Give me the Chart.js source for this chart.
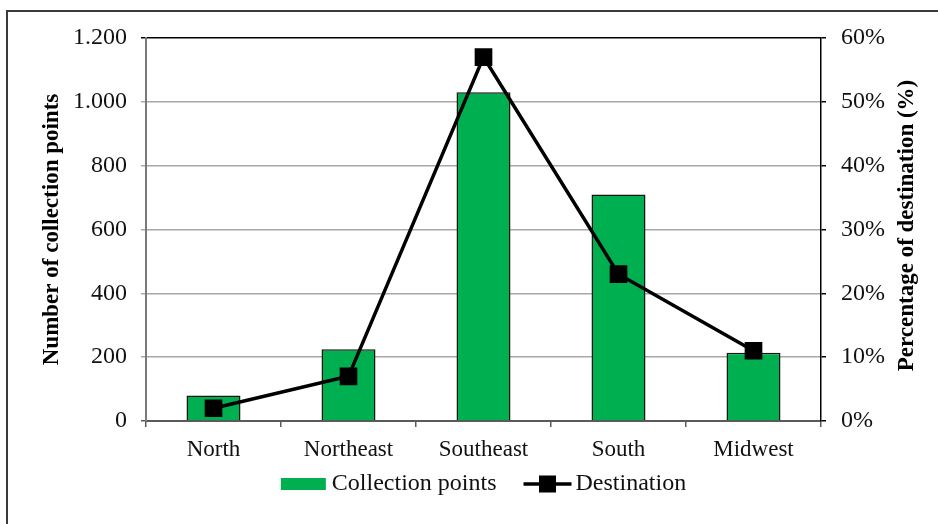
<!DOCTYPE html>
<html>
<head>
<meta charset="utf-8">
<script src="https://cdn.jsdelivr.net/npm/chart.js@4/dist/chart.umd.min.js"></script>
<style>
  html, body { margin: 0; padding: 0; background: #ffffff; }
  #wrap { width: 938px; height: 524px; }
</style>
</head>
<body>
<div id="wrap"><canvas id="chart" width="938" height="524"></canvas></div>
<script>
// Regions and their values
const regions = ['North', 'Northeast', 'Southeast', 'South', 'Midwest'];
const collectionPoints = [80, 225, 1030, 710, 214];
const destinationShare = [2, 7, 57, 23, 11];

// Axis tick labels
const countTickLabels = ['0', '200', '400', '600', '800', '1.000', '1.200'];
const shareTickLabels = ['0%', '10%', '20%', '30%', '40%', '50%', '60%'];

// Series and axis names
const seriesNames = ['Collection points', 'Destination'];
const axisTitles = ['Number of collection points', 'Percentage of destination (%)'];

const SERIF = "'Liberation Serif', 'Times New Roman', serif";
const BAR_GREEN = '#00b050';

// Outer frame, right-hand axis title and the legend row
const decorations = {
  id: 'decorations',
  beforeDraw(chart) {
    const ctx = chart.ctx;
    ctx.save();
    ctx.fillStyle = '#ffffff';
    ctx.fillRect(0, 0, chart.width, chart.height);
    ctx.strokeStyle = '#3a3a3a';
    ctx.lineWidth = 2;
    ctx.beginPath();
    ctx.moveTo(7, chart.height + 2);
    ctx.lineTo(7, 11);
    ctx.lineTo(chart.width + 2, 11);
    ctx.stroke();
    ctx.restore();
  },
  afterDraw(chart) {
    const ctx = chart.ctx;
    const area = chart.chartArea;

    // title of the percentage axis, reading upward
    ctx.save();
    ctx.translate(907, (area.top + area.bottom) / 2 - 4);
    ctx.rotate(-Math.PI / 2);
    ctx.font = 'bold 23px ' + SERIF;
    ctx.fillStyle = '#000000';
    ctx.textAlign = 'center';
    ctx.textBaseline = 'middle';
    ctx.fillText(axisTitles[1], 0, 0);
    ctx.restore();

    // legend
    const bars = chart.data.datasets[0];
    const line = chart.data.datasets[1];
    ctx.save();
    ctx.font = '24px ' + SERIF;
    ctx.textBaseline = 'middle';
    ctx.textAlign = 'left';
    const w1 = ctx.measureText(bars.label).width;
    const w2 = ctx.measureText(line.label).width;
    const swatchW = 45, iconW = 48;
    const total = swatchW + 6 + w1 + 27 + iconW + 4 + w2;
    let x = (area.left + area.right) / 2 - total / 2;
    const y = 484;

    ctx.fillStyle = bars.backgroundColor;
    ctx.fillRect(x, y - 6, swatchW, 12);
    x += swatchW + 6;
    ctx.fillStyle = '#111111';
    ctx.fillText(bars.label, x, y);
    x += w1 + 27;

    ctx.strokeStyle = line.borderColor;
    ctx.lineWidth = 3.5;
    ctx.beginPath();
    ctx.moveTo(x, y);
    ctx.lineTo(x + iconW, y);
    ctx.stroke();
    ctx.fillStyle = line.pointBackgroundColor;
    ctx.fillRect(x + iconW / 2 - 8.5, y - 8.5, 17, 17);
    x += iconW + 4;
    ctx.fillStyle = '#111111';
    ctx.fillText(line.label, x, y);
    ctx.restore();
  }
};

new Chart(document.getElementById('chart'), {
  type: 'bar',
  data: {
    labels: regions,
    datasets: [
      {
        type: 'bar',
        label: seriesNames[0],
        data: collectionPoints,
        yAxisID: 'yCount',
        backgroundColor: BAR_GREEN,
        borderColor: '#141414',
        borderWidth: 1.5,
        borderSkipped: 'bottom',
        barPercentage: 0.8,
        categoryPercentage: 0.5,
        order: 2
      },
      {
        type: 'line',
        label: seriesNames[1],
        data: destinationShare,
        yAxisID: 'yShare',
        borderColor: '#000000',
        borderWidth: 3.5,
        pointStyle: 'rect',
        pointRadius: 12.5,
        pointBackgroundColor: '#000000',
        pointBorderWidth: 0,
        tension: 0,
        fill: false,
        order: 1
      }
    ]
  },
  options: {
    responsive: false,
    devicePixelRatio: 1,
    animation: false,
    events: [],
    layout: { padding: { top: 38, bottom: 55, left: 0, right: 0 } },
    plugins: {
      legend: { display: false },
      tooltip: { enabled: false }
    },
    scales: {
      x: {
        offset: true,
        grid: {
          offset: true,
          drawOnChartArea: false,
          drawTicks: true,
          tickLength: 6,
          color: '#5a5a5a',
          lineWidth: 1.5
        },
        border: { color: '#5a5a5a', width: 2 },
        ticks: {
          font: { family: SERIF, size: 23 },
          color: '#111111',
          padding: 9,
          maxRotation: 0
        },
        afterFit(scale) { scale.height = 48; }
      },
      yCount: {
        position: 'left',
        min: 0,
        max: 1200,
        ticks: {
          stepSize: 200,
          font: { family: SERIF, size: 24 },
          color: '#111111',
          padding: 14,
          callback: (value, index) => countTickLabels[index]
        },
        grid: {
          color: (c) => c.tick && c.tick.value === 1200 ? '#000000'
                       : (c.tick && c.tick.value === 0 ? '#5a5a5a' : '#a8a8a8'),
          lineWidth: 1.5,
          tickLength: 5
        },
        border: { color: '#7a7a7a', width: 2 },
        title: {
          display: true,
          text: axisTitles[0],
          font: { family: SERIF, size: 23, weight: 'bold' },
          color: '#000000',
          padding: { top: 38, bottom: 0 }
        },
        afterFit(scale) { scale.width = 146; }
      },
      yShare: {
        position: 'right',
        min: 0,
        max: 60,
        ticks: {
          stepSize: 10,
          font: { family: SERIF, size: 24 },
          color: '#111111',
          padding: 15,
          callback: (value, index) => shareTickLabels[index]
        },
        grid: {
          drawOnChartArea: false,
          color: '#000000',
          lineWidth: 1.5,
          tickLength: 5
        },
        border: { color: '#000000', width: 1.5 },
        afterFit(scale) { scale.width = 117; }
      }
    }
  },
  plugins: [decorations]
});
</script>
</body>
</html>
